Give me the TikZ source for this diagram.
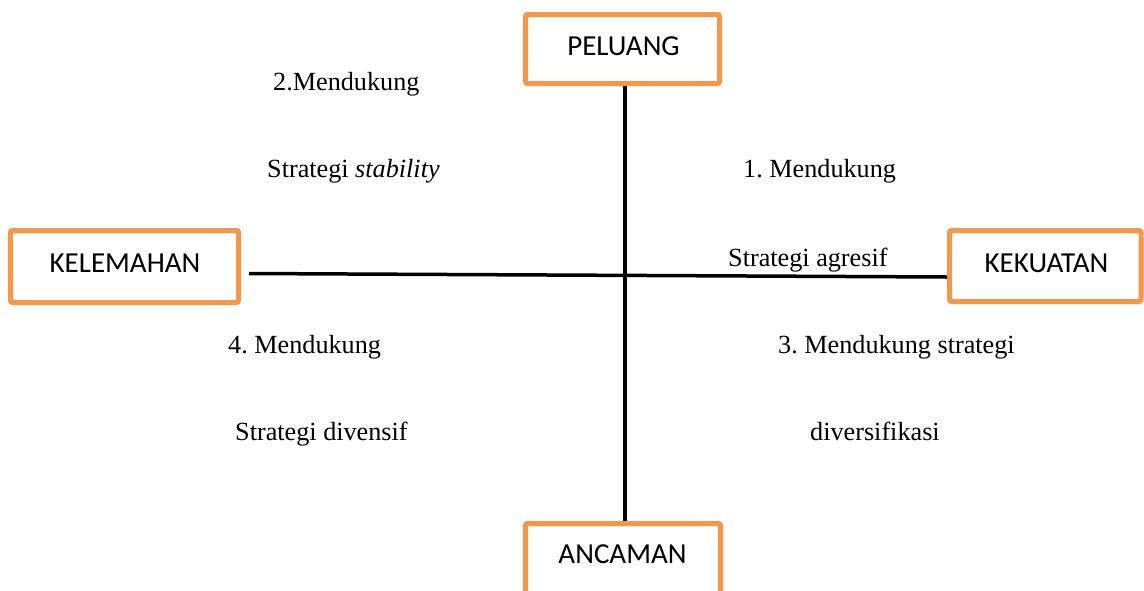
\documentclass[tikz,border=0pt]{standalone}
\usepackage{fontspec}
\setmainfont{Liberation Serif}
\newfontfamily\boxfont{Carlito}
\definecolor{boxorange}{RGB}{247,150,70}
\frenchspacing
\begin{document}
\begin{tikzpicture}[x=1pt,y=-1pt,
  quad/.style={draw=boxorange, line width=5pt, rounded corners=2pt, fill=white, inner sep=0pt},
  boxlabel/.style={inner sep=0pt, anchor=base, font=\boxfont\fontsize{29}{34}\selectfont},
  note/.style={inner sep=0pt, anchor=base west, font=\fontsize{26.2}{30}\selectfont},
  axis/.style={line width=3.5pt, black}]
\useasboundingbox (0,0) rectangle (1144,590);
% boxes
\node[quad, minimum width=194pt, minimum height=69pt] (pel) at (622.5,49) {};
\node[quad, minimum width=228pt, minimum height=72pt] (kel) at (124.5,266.5) {};
\node[quad, minimum width=191.5pt, minimum height=71pt] (kek) at (1045.25,266) {};
\node[quad, minimum width=195pt, minimum height=90pt] (anc) at (623,568.5) {};
% axes
\coordinate (vx) at (625,0);
\coordinate (hl) at (249,273.5);
\coordinate (hr) at (947,277);
\draw[axis] (pel.south -| vx) -- (anc.north -| vx);
\draw[axis] (hl) -- (hr);
% box labels
\node[boxlabel] (tpel) at (623.5,55) {PELUANG};
\node[boxlabel] (tkel) at (125,272) {KELEMAHAN};
\node[boxlabel] (tkek) at (1046.5,272) {KEKUATAN};
\node[boxlabel] (tanc) at (622.5,563) {ANCAMAN};
% quadrant notes
\node[note] (n2a) at (273,90.5) {2.Mendukung};
\node[note] (n2b) at (267,177.5) {Strategi \textit{stability}};
\node[note] (n1a) at (743,177) {1. Mendukung};
\node[note] (n1b) at (728,266) {Strategi agresif};
\node[note] (n4a) at (228,353) {4. Mendukung};
\node[note] (n4b) at (235,440) {Strategi divensif};
\node[note] (n3a) at (778,353) {3. Mendukung strategi};
\node[note] (n3b) at (810,440) {diversifikasi};
\end{tikzpicture}
\end{document}
